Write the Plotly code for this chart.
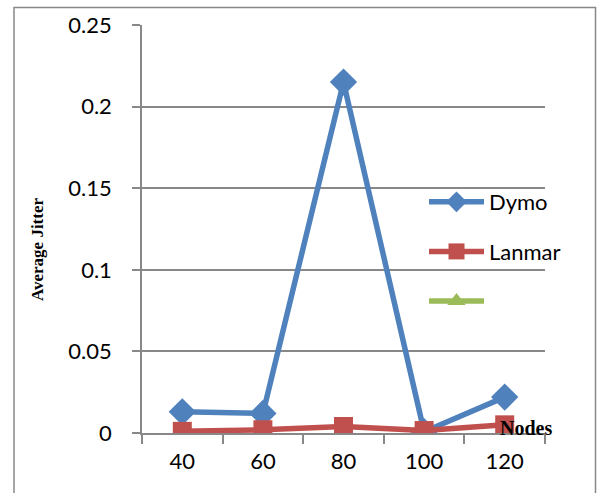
import plotly.graph_objects as go

nodes = ["40", "60", "80", "100", "120"]
dymo = [0.013, 0.012, 0.215, 0.0008, 0.022]
lanmar = [0.001, 0.002, 0.004, 0.0015, 0.005]
third = [None, None, None, None, None]

W, H = 597, 493
L, R, T, B = 142, 52, 25, 60
pw, ph = W - L - R, H - T - B

def px(x):
    return (x - L) / pw

def py(y):
    return (H - B - y) / ph

fig = go.Figure()
fig.add_trace(go.Scatter(x=nodes, y=dymo, name="Dymo", mode="lines+markers",
                         line=dict(color="#4F81BD", width=5.5),
                         marker=dict(symbol="diamond", size=21, color="#4F81BD"),
                         legendgroup="a"))
fig.add_trace(go.Scatter(x=nodes, y=lanmar, name="Lanmar", mode="lines+markers",
                         line=dict(color="#C0504D", width=5.5),
                         marker=dict(symbol="square", size=19, color="#C0504D"),
                         legendgroup="b"))
fig.add_trace(go.Scatter(x=nodes, y=third, name=" ", mode="lines+markers",
                         line=dict(color="#9BBB59", width=5.5),
                         marker=dict(symbol="triangle-up", size=18, color="#9BBB59"),
                         legendgroup="c"))

fig.update_layout(
    width=W, height=H,
    margin=dict(l=L, r=R, t=T, b=B),
    paper_bgcolor="white", plot_bgcolor="white",
    font=dict(family="Lato, Noto Sans, sans-serif", size=22, color="black"),
    showlegend=True,
    legend=dict(x=px(424), y=py(181), xanchor="left", yanchor="top",
                bgcolor="rgba(0,0,0,0)", traceorder="grouped", tracegroupgap=18,
                itemwidth=55, font=dict(size=22)),
    xaxis=dict(type="category", range=[-0.5, 4.5], tickson="boundaries",
               ticks="outside", ticklen=9, tickcolor="#888888", tickwidth=1.5,
               showline=True, linecolor="#888888", linewidth=1.5,
               showgrid=False, zeroline=False, ticklabelstandoff=8),
    yaxis=dict(range=[0, 0.25], dtick=0.05, ticks="outside", ticklen=8,
               tickcolor="#888888", tickwidth=1.5,
               showline=True, linecolor="#888888", linewidth=1.5,
               showgrid=True, gridcolor="#888888", gridwidth=1.5,
               zeroline=False, ticklabelstandoff=16),
)

fig.add_annotation(text="<b>Average Jitter</b>", xref="paper", yref="paper",
                   x=px(37), y=py(250), xanchor="center", yanchor="middle",
                   textangle=-90, showarrow=False,
                   font=dict(family="Liberation Serif, Times New Roman, serif", size=17))
fig.add_annotation(text="<b>Nodes</b>", xref="paper", yref="paper",
                   x=px(526), y=py(428), xanchor="center", yanchor="middle",
                   showarrow=False,
                   font=dict(family="Liberation Serif, Times New Roman, serif", size=20))

fig.add_shape(type="rect", xref="paper", yref="paper",
              x0=px(14), x1=px(595.5), y0=py(510), y1=py(7.5),
              line=dict(color="#888888", width=1.5), fillcolor="rgba(0,0,0,0)")

fig.write_html("out.html")
